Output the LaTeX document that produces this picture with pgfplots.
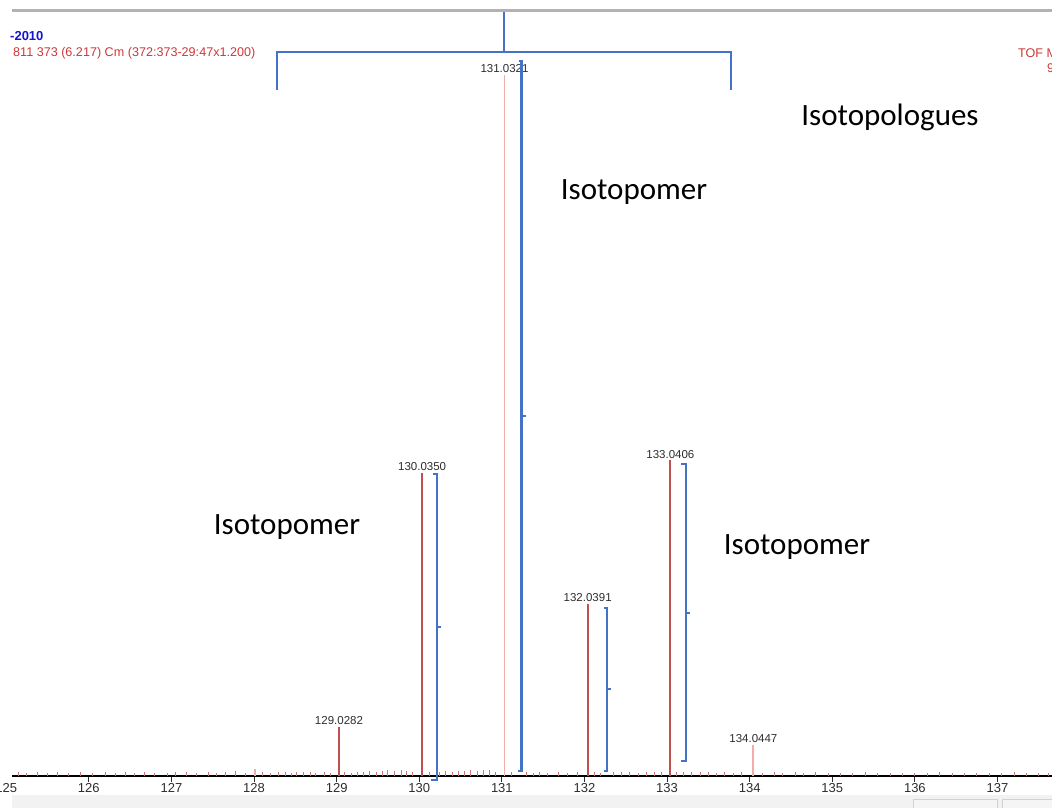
\documentclass[border=0pt]{standalone}
\usepackage{fontspec}
\setmainfont{Liberation Sans}
\newfontfamily\carlito{Carlito}
\usepackage{pgfplots}
\pgfplotsset{compat=1.18}
\definecolor{pkred}{RGB}{192,80,77}
\definecolor{pkpink}{RGB}{242,172,172}
\definecolor{brblue}{RGB}{68,114,196}
\definecolor{hdrred}{RGB}{205,55,55}
\definecolor{hdrblue}{RGB}{20,20,210}
\definecolor{txtgray}{RGB}{45,45,45}
\tikzset{lbl/.style={anchor=south, inner sep=0pt, yshift=2pt, text=txtgray, font=\fontsize{11.5}{11.5}\selectfont}}

\begin{document}
\begin{tikzpicture}[x=1pt,y=1pt]
\useasboundingbox (0,0) rectangle (1052,808);
% window chrome
\fill[gray!10] (12,0) rectangle (1052,13);
\draw[gray!35, fill=gray!8] (913,-2) rectangle (997,9);
\draw[gray!35, fill=gray!8] (1002,-2) rectangle (1060,9);
\draw[line width=3pt, gray!60] (12,797) -- (1052,797);

% header text
\node[anchor=west, inner sep=0, text=hdrblue, font=\bfseries\fontsize{13}{13}\selectfont] at (10,772) {-2010};
\node[anchor=west, inner sep=0, text=hdrred, font=\fontsize{12.6}{12.6}\selectfont] at (13,755) {811 373 (6.217) Cm (372:373-29:47x1.200)};
\node[anchor=west, inner sep=0, text=hdrred, font=\fontsize{12.6}{12.6}\selectfont] at (1018,755) {TOF MS ES+};
\node[anchor=west, inner sep=0, text=hdrred, font=\fontsize{12.6}{12.6}\selectfont] at (1047,740) {9.5e3};

\begin{axis}[
  at={(12pt,32pt)}, anchor=south west,
  width=1040pt, height=765pt, scale only axis,
  xmin=125.07, xmax=137.66, ymin=0, ymax=109.1,
  axis y line=none, axis x line*=bottom,
  x axis line style={line width=1.5pt, black},
  xtick={126,...,137},
  tick align=outside, major tick length=6pt,
  xtick style={line width=1pt, txtgray},
  xticklabel style={font=\fontsize{13}{13}\selectfont, text=txtgray, inner sep=1pt},
  /pgf/number format/assume math mode=true,
  clip=false,
]
% baseline noise
\addplot[ycomb, pkred!80, line width=1pt, no marks] coordinates {
(125.15,0.5)(125.25,0.4)(125.38,0.6)(125.5,0.4)(125.62,0.5)(125.75,0.45)(125.9,0.5)
(126.05,0.4)(126.2,0.6)(126.32,0.45)(126.45,0.5)(126.55,0.4)(126.68,0.5)(126.8,0.45)(126.95,0.4)
(127.05,0.5)(127.18,0.6)(127.3,0.4)(127.45,0.5)(127.55,0.4)(127.65,0.6)(127.78,0.65)(127.9,0.45)
(128.1,0.5)(128.2,0.45)(128.3,0.5)(128.38,0.5)(128.45,0.45)(128.52,0.5)(128.6,0.6)(128.68,0.5)
(128.75,0.45)(128.85,0.5)(128.92,0.45)(129.1,0.5)(129.18,0.45)(129.25,0.6)(129.32,0.5)(129.4,0.65)
(129.48,0.5)(129.55,0.7)(129.62,0.8)(129.7,0.7)(129.78,0.8)(129.85,0.65)(129.92,0.6)
(130.12,0.5)(130.25,0.6)(130.32,0.65)(130.4,0.6)(130.48,0.7)(130.55,0.65)(130.62,0.8)(130.7,0.7)
(130.78,0.85)(130.85,0.8)(130.92,0.6)(131.12,0.5)(131.3,0.5)(131.38,0.45)(131.45,0.5)(131.55,0.4)
(131.68,0.5)(131.8,0.45)(131.92,0.5)(132.12,0.5)(132.2,0.45)(132.35,0.5)(132.45,0.6)(132.55,0.5)
(132.65,0.45)(132.75,0.5)(132.85,0.6)(132.93,0.5)(133.12,0.5)(133.2,0.6)(133.3,0.5)(133.4,0.6)
(133.5,0.5)(133.6,0.45)(133.7,0.5)(133.8,0.45)(133.9,0.5)(134.15,0.45)(134.3,0.5)(134.4,0.4)
(134.55,0.5)(134.65,0.45)(134.8,0.5)(134.95,0.4)(135.1,0.45)(135.25,0.4)(135.4,0.5)(135.55,0.4)
(135.7,0.45)(135.85,0.4)(136.0,0.45)(136.15,0.4)(136.3,0.5)(136.45,0.4)(136.6,0.45)(136.75,0.4)
(136.9,0.45)(137.05,0.4)(137.2,0.5)(137.35,0.4)(137.5,0.45)(137.62,0.4)
};
% main peaks
\addplot[ycomb, pkpink, line width=1.8pt, no marks] coordinates {
(128.01,1.0)(131.0321,100)(134.0447,4.4)
};
\addplot[ycomb, pkred, line width=2pt, no marks] coordinates {
(129.0282,7.0)(130.0350,43.2)(132.0391,24.6)(133.0406,45.0)
};
\node[lbl] at (axis cs:129.0282,7.0) {129.0282};
\node[lbl] at (axis cs:130.0350,43.2) {130.0350};
\node[lbl] at (axis cs:131.0321,100) {131.0321};
\node[lbl] at (axis cs:132.0391,24.6) {132.0391};
\node[lbl] at (axis cs:133.0406,45.0) {133.0406};
\node[lbl] at (axis cs:134.0447,4.4) {134.0447};

% brackets
\draw[brblue, line width=2pt] (axis cs:130.165,43.08) -- (axis cs:130.215,43.08) -- (axis cs:130.215,-0.57) -- (axis cs:130.145,-0.57);
\draw[brblue, line width=2pt] (axis cs:130.215,21.26) -- (axis cs:130.265,21.26);
\draw[brblue, line width=2.5pt] (axis cs:131.205,102.0) -- (axis cs:131.24,102.0) -- (axis cs:131.24,0.71) -- (axis cs:131.195,0.71);
\draw[brblue, line width=2pt] (axis cs:131.24,51.36) -- (axis cs:131.29,51.36);
\draw[brblue, line width=2pt] (axis cs:132.24,23.97) -- (axis cs:132.277,23.97) -- (axis cs:132.277,0.71) -- (axis cs:132.24,0.71);
\draw[brblue, line width=2pt] (axis cs:132.277,12.41) -- (axis cs:132.326,12.41);
\draw[brblue, line width=2pt] (axis cs:133.17,44.51) -- (axis cs:133.23,44.51) -- (axis cs:133.23,2.14) -- (axis cs:133.17,2.14);
\draw[brblue, line width=2pt] (axis cs:133.23,23.25) -- (axis cs:133.28,23.25);
\draw[brblue, line width=2pt] (axis cs:128.28,97.86) -- (axis cs:128.28,103.28) -- (axis cs:133.775,103.28) -- (axis cs:133.775,97.86);
\draw[brblue, line width=2pt] (axis cs:131.025,103.28) -- (axis cs:131.025,108.99);
\end{axis}

\node[anchor=center, text=txtgray, font=\fontsize{13}{13}\selectfont] at (6.3,20) {125};

% annotations
\node[anchor=base, inner sep=0, font=\carlito\fontsize{31}{31}\selectfont] at (890,682) {Isotopologues};
\node[anchor=base, inner sep=0, font=\carlito\fontsize{31}{31}\selectfont] at (634,608) {Isotopomer};
\node[anchor=base, inner sep=0, font=\carlito\fontsize{31}{31}\selectfont] at (287,273) {Isotopomer};
\node[anchor=base, inner sep=0, font=\carlito\fontsize{31}{31}\selectfont] at (797,253) {Isotopomer};
\end{tikzpicture}
\end{document}
